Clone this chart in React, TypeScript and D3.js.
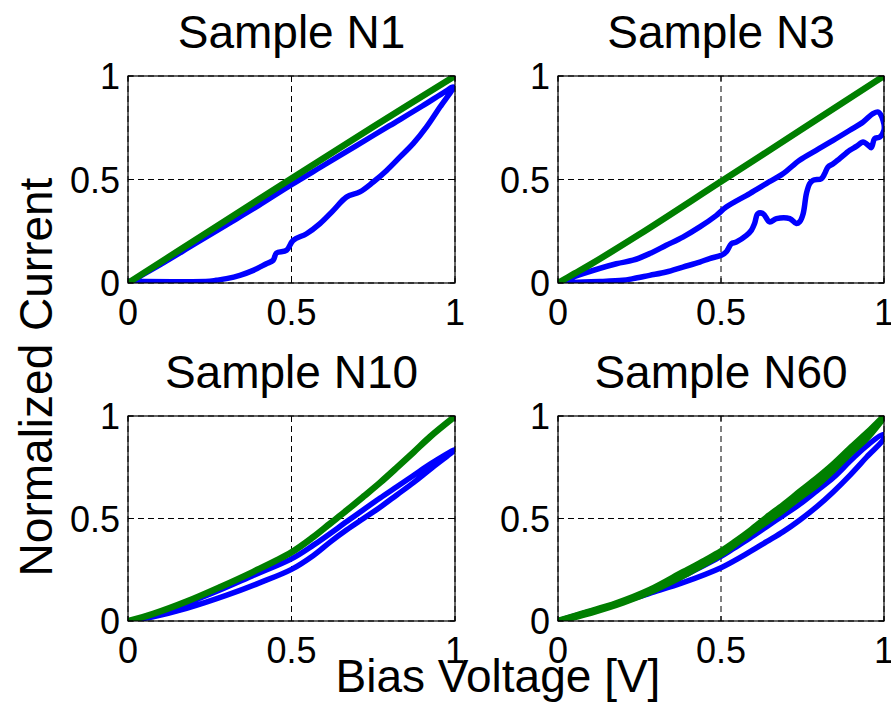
import React from "react";
import * as d3 from "d3";

type P = [number, number];

const panelTitles = ["Sample N1", "Sample N3", "Sample N10", "Sample N60"];
const tickValues = [0, 0.5, 1];
const tickLabels = ["0", "0.5", "1"];
const yAxisLabel = "Normalized Current";
const xAxisLabel = "Bias Voltage [V]";

// Sample N1
const n1Green: P[] = [[0, 0], [0.25, 0.252], [0.5, 0.505], [0.75, 0.755], [1, 1]];
const n1Blue: P[] = [
  [0, 0], [0.1, 0.09], [0.2, 0.185], [0.3, 0.28], [0.4, 0.375], [0.5, 0.475], [0.6, 0.57],
  [0.7, 0.665], [0.8, 0.76], [0.9, 0.855], [0.97, 0.925], [0.995, 0.947],
  [0.954, 0.85], [0.913, 0.754], [0.872, 0.673], [0.832, 0.609], [0.791, 0.544], [0.75, 0.488],
  [0.709, 0.44], [0.668, 0.415], [0.628, 0.351], [0.587, 0.287], [0.546, 0.238], [0.505, 0.206],
  [0.485, 0.158], [0.454, 0.145], [0.444, 0.11], [0.423, 0.093], [0.383, 0.061], [0.342, 0.037],
  [0.301, 0.021], [0.27, 0.013], [0.25, 0.008], [0, 0.008],
];

// Sample N3
const n3Green: P[] = [[0, 0], [0.05, 0.045], [0.1, 0.09], [0.25, 0.235], [0.5, 0.49], [0.75, 0.745], [1, 1]];
const n3Blue: P[] = [
  [0, 0], [0.077, 0.045], [0.179, 0.093], [0.23, 0.11], [0.281, 0.142], [0.332, 0.182], [0.383, 0.222],
  [0.435, 0.271], [0.486, 0.327], [0.516, 0.367], [0.588, 0.432], [0.639, 0.48], [0.69, 0.528],
  [0.741, 0.593], [0.792, 0.641], [0.844, 0.689], [0.895, 0.738], [0.936, 0.778], [0.966, 0.818],
  [0.982, 0.826], [0.997, 0.786], [1.0, 0.738],
  [0.987, 0.705], [0.971, 0.697], [0.961, 0.654], [0.946, 0.673], [0.936, 0.681], [0.915, 0.66],
  [0.895, 0.641], [0.864, 0.601], [0.844, 0.576], [0.828, 0.56], [0.818, 0.528], [0.808, 0.504],
  [0.782, 0.496], [0.772, 0.48], [0.762, 0.432], [0.752, 0.335], [0.741, 0.295], [0.731, 0.287],
  [0.711, 0.311], [0.67, 0.311], [0.649, 0.295], [0.629, 0.335], [0.613, 0.335], [0.603, 0.287],
  [0.593, 0.254], [0.578, 0.23], [0.547, 0.198], [0.532, 0.19], [0.516, 0.15], [0.501, 0.134],
  [0.465, 0.118], [0.435, 0.101], [0.383, 0.077], [0.332, 0.053], [0.281, 0.037], [0.23, 0.021],
  [0.199, 0.013], [0.128, 0.007], [0.077, 0.005], [0, 0],
];

// Sample N10
const n10Green: P[] = [
  [0, 0], [0.077, 0.035], [0.179, 0.095], [0.281, 0.165], [0.383, 0.24], [0.5, 0.335],
  [0.567, 0.41], [0.618, 0.475], [0.669, 0.54], [0.72, 0.607], [0.771, 0.675], [0.822, 0.748],
  [0.873, 0.823], [0.924, 0.899], [1, 0.998],
];
const n10Blue: P[] = [
  [0, 0], [0.077, 0.029], [0.179, 0.086], [0.281, 0.151], [0.383, 0.222], [0.5, 0.303], [0.567, 0.37],
  [0.669, 0.485], [0.72, 0.543], [0.771, 0.6], [0.822, 0.655], [0.873, 0.71], [0.924, 0.765], [1, 0.836],
  [0.924, 0.74], [0.873, 0.675], [0.822, 0.615], [0.771, 0.555], [0.72, 0.5], [0.669, 0.445],
  [0.618, 0.385], [0.567, 0.32], [0.5, 0.252], [0.4, 0.185], [0.3, 0.125], [0.179, 0.062],
  [0.077, 0.021], [0, 0],
];

// Sample N60
const n60Green: P[] = [
  [0, 0], [0.077, 0.037], [0.179, 0.086], [0.281, 0.151], [0.383, 0.238], [0.45, 0.295], [0.5, 0.34],
  [0.54, 0.383], [0.589, 0.44], [0.64, 0.505], [0.691, 0.566], [0.742, 0.631], [0.794, 0.696],
  [0.845, 0.765], [0.896, 0.842], [0.947, 0.916], [1, 0.997],
  [0.947, 0.891], [0.896, 0.818], [0.845, 0.737], [0.794, 0.663], [0.742, 0.603], [0.691, 0.541],
  [0.64, 0.484], [0.589, 0.428], [0.54, 0.37], [0.5, 0.325], [0.4, 0.235], [0.3, 0.155],
  [0.2, 0.09], [0.1, 0.04], [0, 0],
];
const n60Blue: P[] = [
  [0, 0], [0.1, 0.042], [0.2, 0.092], [0.3, 0.155], [0.4, 0.232], [0.5, 0.315], [0.54, 0.355],
  [0.589, 0.405], [0.64, 0.46], [0.691, 0.515], [0.742, 0.57], [0.794, 0.635], [0.845, 0.7],
  [0.896, 0.78], [0.947, 0.855], [1, 0.91],
  [1, 0.89], [0.947, 0.8], [0.896, 0.712], [0.845, 0.631], [0.794, 0.558], [0.742, 0.493],
  [0.691, 0.436], [0.64, 0.387], [0.589, 0.338], [0.5, 0.26], [0.383, 0.187], [0.281, 0.135],
  [0.179, 0.083], [0.077, 0.037], [0, 0],
];

const greens = [n1Green, n3Green, n10Green, n60Green];
const blues = [n1Blue, n3Blue, n10Blue, n60Blue];

const boxes = [
  { left: 128, right: 455, top: 76, bottom: 283 },
  { left: 558, right: 884, top: 76, bottom: 283 },
  { left: 128, right: 455, top: 416, bottom: 621 },
  { left: 558, right: 884, top: 416, bottom: 621 },
];

const FONT = "'Liberation Sans', Arial, Helvetica, sans-serif";

function Panel({ idx }: { idx: number }) {
  const b = boxes[idx];
  const x = d3.scaleLinear().domain([0, 1]).range([b.left, b.right]);
  const y = d3.scaleLinear().domain([0, 1]).range([b.bottom, b.top]);
  const line = d3
    .line<P>()
    .x((d) => x(d[0]))
    .y((d) => y(d[1]))
    .curve(d3.curveCatmullRom.alpha(0.5));
  const clipId = `clip${idx}`;
  const tl = 5;
  return (
    <g>
      <defs>
        <clipPath id={clipId}>
          <rect x={b.left} y={b.top} width={b.right - b.left} height={b.bottom - b.top} />
        </clipPath>
      </defs>
      {tickValues.map((v, i) => (
        <g key={"g" + i}>
          <line x1={x(v)} x2={x(v)} y1={b.top} y2={b.bottom} stroke="#000" strokeWidth={1} strokeDasharray="6,4" />
          <line x1={b.left} x2={b.right} y1={y(v)} y2={y(v)} stroke="#000" strokeWidth={1} strokeDasharray="6,4" />
        </g>
      ))}
      <g clipPath={`url(#${clipId})`}>
        <path d={line(blues[idx]) || ""} fill="none" stroke="#0000ff" strokeWidth={5.5} strokeLinejoin="round" strokeLinecap="round" />
        <path d={line(greens[idx]) || ""} fill="none" stroke="#007f00" strokeWidth={6.5} strokeLinejoin="round" strokeLinecap="round" />
      </g>
      <rect x={b.left} y={b.top} width={b.right - b.left} height={b.bottom - b.top} fill="none" stroke="#000" strokeWidth={1.2} />
      {tickValues.map((v, i) => (
        <g key={"t" + i}>
          <line x1={x(v)} x2={x(v)} y1={b.bottom} y2={b.bottom - tl} stroke="#000" />
          <line x1={x(v)} x2={x(v)} y1={b.top} y2={b.top + tl} stroke="#000" />
          <line x1={b.left} x2={b.left + tl} y1={y(v)} y2={y(v)} stroke="#000" />
          <line x1={b.right} x2={b.right - tl} y1={y(v)} y2={y(v)} stroke="#000" />
          <text x={x(v)} y={b.bottom + 42} textAnchor="middle" fontSize={36} fontFamily={FONT} fill="#000">
            {tickLabels[i]}
          </text>
          <text x={b.left - 8} y={y(v) + 13} textAnchor="end" fontSize={36} fontFamily={FONT} fill="#000">
            {tickLabels[i]}
          </text>
        </g>
      ))}
      <text x={(b.left + b.right) / 2} y={b.top - 28} textAnchor="middle" fontSize={46} fontFamily={FONT} fill="#000">
        {panelTitles[idx]}
      </text>
    </g>
  );
}

export default function App() {
  return (
    <svg width={891} height={702} style={{ position: "absolute", left: 0, top: 0, display: "block" }}>
      <rect x={0} y={0} width={891} height={702} fill="#fff" />
      {boxes.map((_, i) => (
        <Panel key={i} idx={i} />
      ))}
      <text transform="translate(52,377) rotate(-90)" textAnchor="middle" fontSize={46} fontFamily={FONT} fill="#000">
        {yAxisLabel}
      </text>
      <text x={498} y={692} textAnchor="middle" fontSize={46} fontFamily={FONT} fill="#000">
        {xAxisLabel}
      </text>
    </svg>
  );
}
